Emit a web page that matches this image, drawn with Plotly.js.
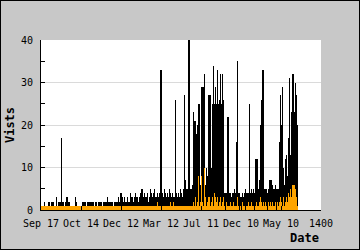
<!DOCTYPE html>
<html>
<head>
<meta charset="utf-8">
<script src="https://cdn.plot.ly/plotly-3.0.1.min.js"></script>
<style>
  html, body { margin: 0; padding: 0; background: #c8c8c8; }
  #wrap { position: relative; width: 360px; height: 250px; }
  #chart { width: 360px; height: 250px; }
  #frame { position: absolute; left: 0; top: 0; width: 358px; height: 248px; border: 1px solid #000; pointer-events: none; }
</style>
</head>
<body>
<div id="wrap"><div id="chart"></div><div id="frame"></div></div>
<script>
// Tick labels along the date axis
const dateLabels = ["Sep 17", "Oct 14", "Dec 12", "Mar 12", "Jul 11", "Dec 10", "May 10", "1400"];

// Total visits per period (black)
const totalVisits = [
  1,1,1,2,1,1,1,2,2,1,
  2,2,2,1,1,3,1,2,2,2,
  17,2,2,1,2,3,3,2,2,1,
  1,1,1,1,3,2,1,1,1,1,
  1,2,2,2,2,1,2,2,2,2,
  2,2,2,1,2,2,1,2,2,2,
  2,1,2,2,2,2,3,2,2,2,
  2,2,1,2,2,2,2,3,2,4,
  4,3,2,3,2,2,3,2,2,4,
  3,3,2,3,4,3,3,2,3,4,
  5,5,3,4,3,3,4,2,3,5,
  4,3,4,5,3,3,4,3,4,33,
  33,4,3,5,4,3,4,3,5,4,
  3,4,3,3,26,4,3,4,3,5,
  4,3,5,27,7,5,5,40,40,5,
  5,6,23,21,21,18,20,25,25,6,
  29,29,29,32,6,10,8,27,27,27,
  10,25,34,25,29,25,33,25,26,32,
  25,32,26,4,4,4,22,22,4,4,
  3,4,4,5,4,16,35,4,4,3,
  3,4,3,4,5,4,4,4,25,4,
  5,4,5,4,12,12,12,5,7,20,
  26,33,33,5,5,5,4,5,7,7,
  7,6,5,5,6,5,5,5,16,27,
  20,29,10,6,12,13,8,17,31,13,
  23,32,32,23,30,27,20
];

// Lower series (orange)
const newVisits = [
  1,1,1,1,1,1,1,1,1,1,
  1,1,1,1,1,1,1,1,1,1,
  1,1,1,1,1,1,1,1,1,1,
  1,1,1,1,1,1,1,1,1,1,
  1,1,1,1,1,1,1,1,1,1,
  1,1,1,1,1,1,1,1,1,1,
  1,1,1,1,1,1,1,1,1,1,
  1,1,1,1,1,1,1,1,1,1,
  1,1,1,1,1,1,1,1,1,1,
  1,1,1,1,1,1,1,1,1,1,
  1,1,1,1,1,1,1,1,1,1,
  1,1,1,1,1,1,2,1,1,1,
  1,1,1,1,1,1,1,1,1,2,
  1,1,2,1,1,1,1,1,1,1,
  1,1,1,1,1,1,1,1,1,1,
  1,1,2,1,3,1,2,8,1,2,
  8,2,1,10,3,1,2,3,3,1,
  2,3,1,4,3,2,3,1,2,3,
  1,2,3,1,0,2,1,1,1,2,
  1,1,2,1,1,1,3,1,0,1,
  1,2,1,1,0,1,1,2,1,1,
  2,1,1,0,1,2,1,1,2,3,
  2,1,2,1,2,1,0,2,1,2,
  1,2,1,1,2,0,2,1,2,3,
  2,1,3,1,2,3,2,4,3,5,
  3,6,6,6,5,3,1
];

const xs = totalVisits.map((_, i) => i + 0.5);
const axisFont = { family: "DejaVu Sans Mono, monospace", size: 10, color: "#000" };
const titleFont = { family: "DejaVu Sans Mono, monospace", size: 12, color: "#000", weight: "bold" };

const traces = [
  { type: "bar", x: xs, y: totalVisits, width: 1, marker: { color: "#000000", line: { width: 0 } }, hoverinfo: "skip" },
  { type: "bar", x: xs, y: newVisits, width: 1, marker: { color: "#ffa500", line: { width: 0 } }, hoverinfo: "skip" }
];

const layout = {
  width: 360, height: 250,
  margin: { l: 41, r: 39, t: 40, b: 40, pad: 0 },
  paper_bgcolor: "#c8c8c8",
  plot_bgcolor: "#ffffff",
  barmode: "overlay",
  bargap: 0,
  showlegend: false,
  xaxis: {
    range: [0, 280],
    tickmode: "array",
    tickvals: dateLabels.map((_, k) => k * 40),
    ticktext: dateLabels,
    ticks: "inside", ticklen: 4, tickcolor: "#000", tickwidth: 1,
    showline: true, linecolor: "#000", linewidth: 1,
    showgrid: false, zeroline: false,
    tickfont: axisFont,
    ticklabelstandoff: 4,
    fixedrange: true
  },
  yaxis: {
    range: [0, 40],
    tickmode: "array",
    tickvals: [0, 10, 20, 30, 40],
    ticks: "inside", ticklen: 4, tickcolor: "#000", tickwidth: 1,
    minor: { tickvals: [5, 15, 25, 35], ticks: "inside", ticklen: 4, tickcolor: "#000", showgrid: false },
    showline: true, linecolor: "#000", linewidth: 1,
    showgrid: true, gridcolor: "#dadada", gridwidth: 1,
    zeroline: false,
    tickfont: axisFont,
    ticklabelstandoff: 5,
    title: { text: "Vists", font: titleFont, standoff: 3 },
    fixedrange: true
  },
  annotations: [
    { text: "Date", xref: "paper", yref: "paper", x: 1, y: -0.11, xanchor: "right", yanchor: "top",
      showarrow: false, font: titleFont }
  ]
};

Plotly.newPlot("chart", traces, layout, { staticPlot: true, displayModeBar: false });
</script>
</body>
</html>
